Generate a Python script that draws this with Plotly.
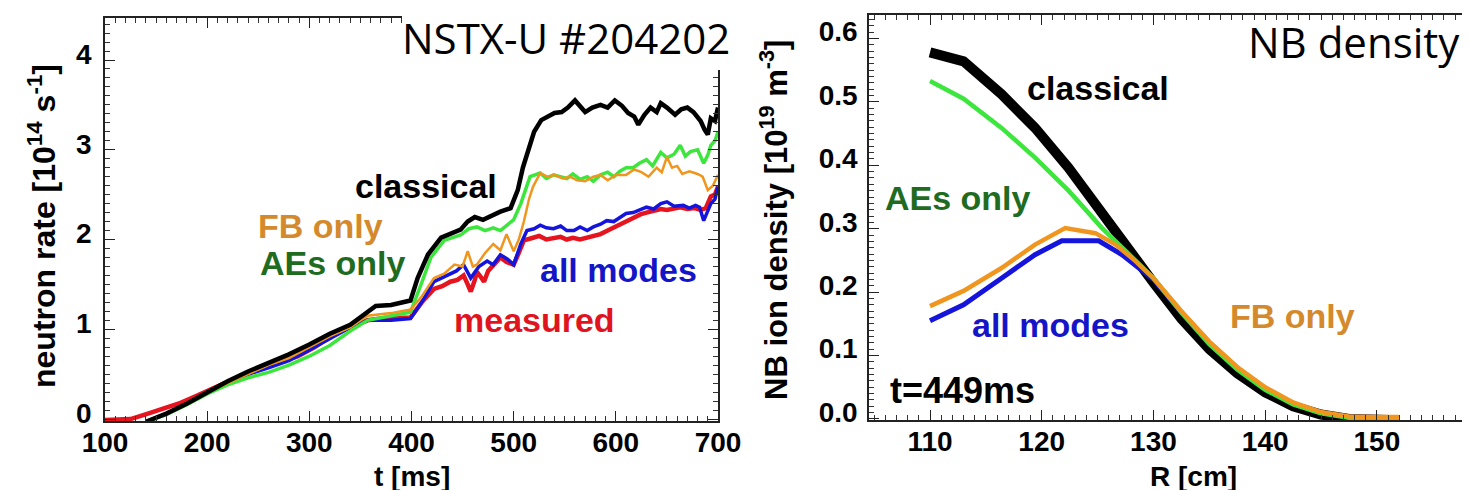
import plotly.graph_objects as go

W, H = 1470, 490

# ---------------- Left panel: neutron rate vs time ----------------
t_classical = [140,160,180,200,220,240,260,280,300,320,340,357,365,380,399,406,416,429,440,448,455,462,470,480,487,497,504,509,514,520,527,534,540,547,553,560,565,570,577,585,592,599,606,612,618,622,628,634,640,644,650,658,664,670,676,683,687,690,693,697,700]
v_classical = [-0.03,0.06,0.17,0.3,0.42,0.53,0.62,0.72,0.83,0.95,1.05,1.2,1.26,1.27,1.32,1.57,1.83,2.02,2.07,2.11,2.2,2.25,2.22,2.28,2.31,2.35,2.55,2.8,3.0,3.2,3.33,3.38,3.41,3.42,3.47,3.55,3.49,3.42,3.47,3.5,3.47,3.55,3.49,3.41,3.37,3.28,3.39,3.47,3.42,3.52,3.47,3.39,3.45,3.47,3.42,3.32,3.22,3.17,3.35,3.32,3.47]

t_aes = [140,160,180,200,220,240,260,280,300,320,340,357,380,399,409,419,432,440,448,456,464,472,480,487,494,500,507,516,526,532,539,546,552,558,565,572,578,585,592,598,604,610,617,623,630,636,644,650,657,663,668,673,680,686,690,693,697,700]
v_aes = [-0.03,0.05,0.16,0.28,0.38,0.46,0.52,0.6,0.7,0.82,0.98,1.1,1.15,1.19,1.49,1.8,1.99,2.02,2.05,2.12,2.14,2.1,2.13,2.1,2.17,2.22,2.4,2.7,2.74,2.68,2.72,2.7,2.68,2.73,2.67,2.7,2.65,2.72,2.75,2.7,2.76,2.8,2.8,2.85,2.89,2.82,2.97,2.91,2.95,3.05,2.93,2.98,3.0,2.85,2.94,3.05,3.1,3.2]

t_fb = [140,160,180,200,220,240,260,280,300,320,340,357,380,399,409,422,432,442,450,455,460,464,472,480,487,493,500,505,510,515,519,526,533,540,548,555,562,570,578,585,592,600,610,618,625,632,640,645,650,655,660,665,672,680,685,690,695,700]
v_fb = [-0.02,0.06,0.17,0.3,0.4,0.5,0.6,0.68,0.8,0.92,1.02,1.15,1.18,1.22,1.35,1.57,1.62,1.72,1.7,1.87,1.7,1.72,1.85,1.95,1.88,2.06,1.87,2.0,2.2,2.45,2.59,2.74,2.7,2.72,2.68,2.7,2.66,2.65,2.7,2.72,2.66,2.72,2.72,2.78,2.75,2.7,2.8,2.75,2.92,2.8,2.82,2.73,2.76,2.73,2.7,2.55,2.6,2.72]

t_all = [140,160,180,200,220,240,260,280,300,320,340,357,380,399,410,422,435,444,451,458,466,474,480,487,494,500,507,513,520,526,532,539,546,552,559,565,572,578,585,591,598,604,610,617,623,630,637,644,650,657,666,672,678,682,686,690,693,697,700]
v_all = [-0.03,0.06,0.17,0.3,0.4,0.5,0.57,0.65,0.77,0.9,1.02,1.1,1.1,1.12,1.3,1.53,1.6,1.65,1.72,1.57,1.7,1.76,1.72,1.83,1.78,1.72,1.95,2.1,2.12,2.16,2.13,2.12,2.15,2.1,2.1,2.14,2.1,2.14,2.17,2.21,2.2,2.25,2.29,2.3,2.33,2.36,2.34,2.4,2.42,2.37,2.38,2.35,2.38,2.36,2.21,2.32,2.4,2.45,2.59]

t_meas = [100,115,125,142,158,174,188,201,215,230,245,256,270,289,305,321,335,348,357,370,385,399,410,422,430,438,445,451,455,458,462,464,468,471,475,480,487,493,500,505,510,519,525,532,539,546,552,558,565,572,578,585,592,598,604,610,617,624,630,637,644,650,657,663,670,677,683,688,693,697,700]
v_meas = [-0.01,-0.01,0.0,0.06,0.12,0.18,0.25,0.32,0.39,0.45,0.52,0.58,0.63,0.7,0.8,0.92,1.0,1.06,1.1,1.12,1.13,1.13,1.3,1.45,1.48,1.53,1.55,1.6,1.5,1.42,1.55,1.64,1.58,1.53,1.65,1.72,1.8,1.75,1.72,1.85,1.99,2.02,2.04,2.0,2.02,2.03,2.0,2.02,2.0,2.02,2.03,2.06,2.1,2.13,2.17,2.2,2.24,2.28,2.3,2.32,2.34,2.33,2.35,2.36,2.34,2.35,2.33,2.35,2.48,2.5,2.59]

# ---------------- Right panel: NB ion density vs R ----------------
R_classical = [110,113,116.4,119.4,122.4,125.4,127.5,130,132.5,135,137.5,140,142.5,145,147.5,150,152]
n_classical = [0.578,0.564,0.512,0.459,0.396,0.322,0.275,0.215,0.158,0.110,0.072,0.042,0.020,0.007,0.0,-0.002,-0.002]

R_aes = [110,113,116.4,119.4,122.4,125.4,127.5,130,132.5,135,137.5,140,142.5,145,147.5,150,152]
n_aes = [0.533,0.505,0.459,0.412,0.360,0.301,0.265,0.222,0.168,0.118,0.078,0.046,0.023,0.009,0.002,0.0,0.0]

R_fb = [110,113,116.4,119.4,122.1,124.8,126.6,128.4,130,132.5,135,137.5,140,142.5,145,147.5,150,152]
n_fb = [0.178,0.202,0.238,0.275,0.301,0.293,0.275,0.249,0.222,0.170,0.122,0.082,0.050,0.026,0.011,0.004,0.003,0.003]

R_all = [110,113,116.4,119.4,121.8,125.1,127.2,130,132.5,135,137.5,140,142.5,145,147.5,150,152]
n_all = [0.155,0.180,0.222,0.259,0.281,0.281,0.259,0.220,0.168,0.120,0.080,0.048,0.024,0.010,0.003,0.002,0.002]

C_BLACK = "#000000"
C_GREEN = "#3CE63C"
C_ORANGE = "#F0961E"
C_BLUE = "#1414DC"
C_RED = "#E6141E"

fig = go.Figure()

def add(x, y, color, width, xa, ya):
    fig.add_trace(go.Scatter(x=x, y=y, mode="lines", line=dict(color=color, width=width),
                             xaxis=xa, yaxis=ya, showlegend=False, hoverinfo="skip"))

# left panel traces
add(t_meas, v_meas, C_RED, 4.5, "x", "y")
add(t_all, v_all, C_BLUE, 3.5, "x", "y")
add(t_aes, v_aes, C_GREEN, 3.5, "x", "y")
add(t_fb, v_fb, C_ORANGE, 2.5, "x", "y")
add(t_classical, v_classical, C_BLACK, 4.5, "x", "y")

# right panel traces
add(R_classical, n_classical, C_BLACK, 10, "x2", "y2")
add(R_all, n_all, C_BLUE, 5, "x2", "y2")
add(R_aes, n_aes, C_GREEN, 4.5, "x2", "y2")
add(R_fb, n_fb, C_ORANGE, 4.5, "x2", "y2")

FONT = "Liberation Sans, Arial, Helvetica, sans-serif"
tickfont = dict(family=FONT, size=28, color="black", weight="bold")

def axis_style(dtick, minor_dtick, rng, domain, anchor, fmt=None):
    d = dict(range=rng, domain=domain, anchor=anchor, dtick=dtick, tick0=0,
             ticks="inside", ticklen=10, tickwidth=1.3, tickcolor="#222",
             showline=True, linecolor="#222", linewidth=1.5, mirror="allticks",
             showgrid=False, zeroline=False, tickfont=tickfont, automargin=False,
             minor=dict(dtick=minor_dtick, ticks="inside", ticklen=5, tickwidth=1, tickcolor="#333", showgrid=False))
    if fmt:
        d["tickformat"] = fmt
    return d

def px_x(x):
    return x / W

def px_y(y):
    return 1 - y / H

xa1 = axis_style(100, 10, [100, 700], [px_x(97), px_x(710)], "y")
xa1["ticklabelstandoff"] = -4
ya1 = axis_style(1, 0.1, [-0.022, 4.468], [px_y(413), px_y(10)], "x")
ya1["ticklabelstandoff"] = 6
ya1["ticklabelshift"] = -6
xa2 = axis_style(10, 1, [104.54, 158.6], [px_x(861), px_x(1465)], "y2")
xa2["ticklabelstandoff"] = -4
ya2 = axis_style(0.1, 0.01, [-0.0016, 0.637], [px_y(412), px_y(7)], "x2", fmt=".1f")
ya2["ticklabelstandoff"] = 4
ya2["ticklabelshift"] = -7

fig.update_layout(
    width=W, height=H,
    margin=dict(l=0, r=0, t=0, b=0),
    paper_bgcolor="white", plot_bgcolor="white",
    xaxis=xa1, yaxis=ya1, xaxis2=xa2, yaxis2=ya2,
    showlegend=False,
)

annotations = []

def ann(text, x, y, size, color="black", angle=0, family=FONT, weight="bold"):
    annotations.append(dict(text=text, x=px_x(x), y=px_y(y), xref="paper", yref="paper",
                            showarrow=False, xanchor="center", yanchor="middle", textangle=angle,
                            font=dict(family=family, size=size, color=color, weight=weight)))

# axis titles
ann("neutron rate [10<sup>14</sup> s<sup>-1</sup>]", 34, 218, 32, angle=-90)
ann("t [ms]", 404, 468, 28)
ann("NB ion density [10<sup>19</sup> m<sup>-3</sup>]", 766, 212, 31, angle=-90)
ann("R [cm]", 1185, 468, 28)

# in-plot labels, left
ann("classical", 418, 178, 34, "black")
ann("FB only", 312, 218, 34, "#D48A2C")
ann("AEs only", 325, 255, 34, "#1F6B1F")
ann("all modes", 610, 262, 34, "#1515C8")
ann("measured", 526, 312, 34, "#E0141E")

# in-plot labels, right
ann("classical", 1090, 80, 34, "black")
ann("AEs only", 950, 190, 34, "#1F6B1F")
ann("all modes", 1042, 317, 34, "#1515C8")
ann("FB only", 1284, 308, 34, "#D48A2C")
ann("t=449ms", 954, 382, 36, "black")

# overlay titles on white boxes
fig.add_shape(type="rect", xref="paper", yref="paper", x0=px_x(394), x1=px_x(740), y0=px_y(62), y1=px_y(0),
              fillcolor="white", line=dict(width=0), layer="above")
fig.add_shape(type="rect", xref="paper", yref="paper", x0=px_x(1240), x1=px_x(1470), y0=px_y(75), y1=px_y(12),
              fillcolor="white", line=dict(width=0), layer="above")
ann("NSTX-U #204202", 558, 30, 42, "black", family="Open Sans, Noto Sans, sans-serif", weight="normal")
ann("NB density", 1346, 34, 42, "black", family="Open Sans, Noto Sans, sans-serif", weight="normal")

fig.update_layout(annotations=annotations)

fig.write_html("out.html")
